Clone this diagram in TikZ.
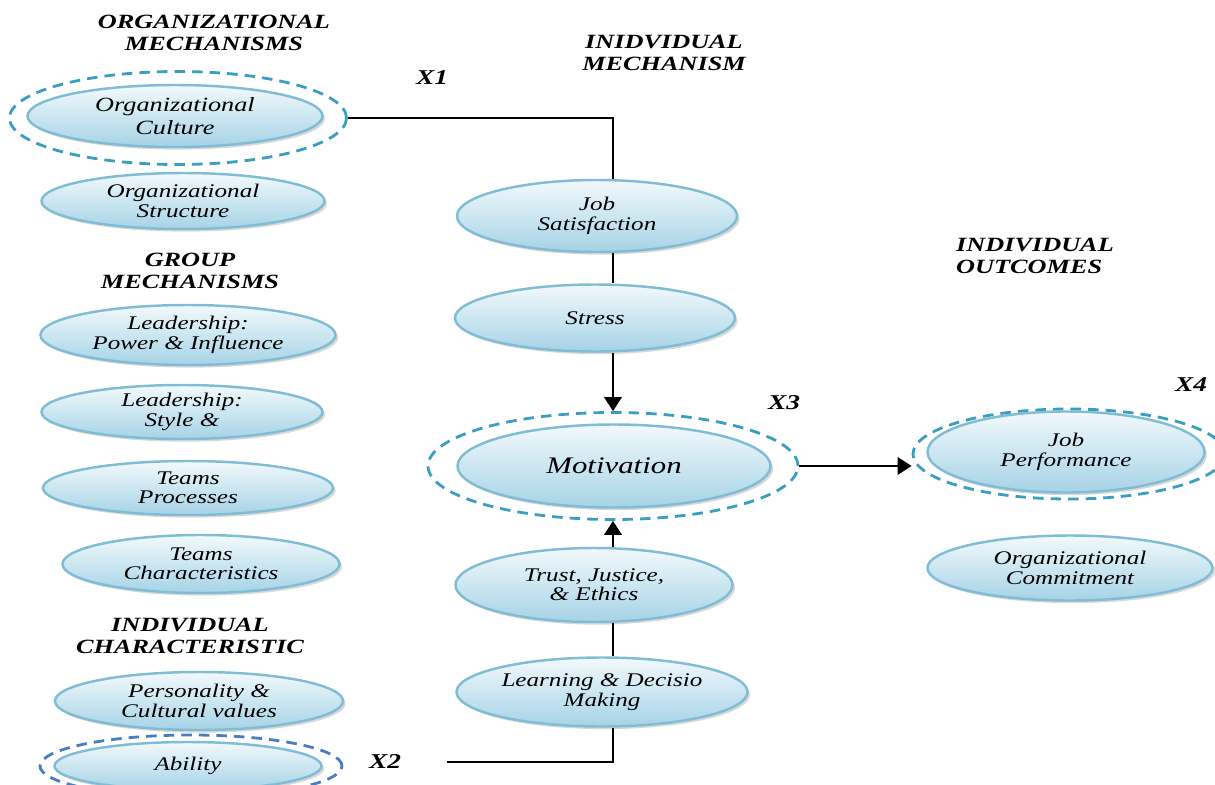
\documentclass[tikz,border=0pt]{standalone}
\usepackage{fontspec}
\setmainfont{Liberation Serif}[FakeStretch=1.3]
\usetikzlibrary{shapes.geometric,arrows.meta,shadows}

\definecolor{ovaltop}{HTML}{F2F9FC}
\definecolor{ovalbot}{HTML}{A6D3E6}
\definecolor{ovalline}{HTML}{80BDD4}
\definecolor{ringteal}{HTML}{3A9EC0}
\definecolor{ringblue}{HTML}{4A7CC0}

\tikzset{
  wh/.style 2 args={minimum width=#1*0.02cm, minimum height=#2*0.02cm},
  oval/.style={ellipse, draw=ovalline, line width=1.4pt, top color=ovaltop,
    bottom color=ovalbot, inner sep=0pt, align=center,
    font=\fontsize{11}{11}\selectfont\itshape,
    drop shadow={shadow xshift=1.5pt, shadow yshift=-1.5pt, opacity=0.3}},
  ring/.style={ellipse, draw=ringteal, dash pattern=on 6pt off 4pt,
    line width=1.6pt, inner sep=0pt},
  heading/.style={align=center, font=\fontsize{11.5}{12.5}\selectfont\bfseries\itshape},
  tag/.style={font=\fontsize{12}{14}\selectfont\bfseries\itshape},
  link/.style={line width=1.2pt},
  push/.style={link, -{Triangle[width=10pt,length=8pt]}}
}

\begin{document}
\begin{tikzpicture}[x=0.02cm, y=-0.02cm]
  \useasboundingbox (0,0) rectangle (1215,785);

  % Headings
  \node[heading] (orgmech) at (214,33) {ORGANIZATIONAL\\MECHANISMS};
  \node[heading] (indmech) at (664,53) {INIDVIDUAL\\MECHANISM};
  \node[heading] (groupmech) at (190,271) {GROUP\\MECHANISMS};
  \node[heading, align=left, anchor=west] (indout) at (950,256) {INDIVIDUAL\\OUTCOMES};
  \node[heading] (indchar) at (190,636) {INDIVIDUAL\\CHARACTERISTIC};

  % Left column
  \node[ring, wh={337}{93}] (cultring) at (178,118) {};
  \node[oval, wh={295}{62}, font=\fontsize{11.5}{13}\selectfont\itshape] (cult) at (175,116) {Organizational\\Culture};
  \node[oval, wh={283}{56}] (struct) at (183,201) {Organizational\\Structure};
  \node[oval, wh={295}{60}] (power) at (188,335) {Leadership:\\Power \& Influence};
  \node[oval, wh={281}{54}] (style) at (182,412) {Leadership:\\Style \&};
  \node[oval, wh={290}{54}] (procs) at (188,488) {Teams\\Processes};
  \node[oval, wh={277}{58}] (chars) at (201,564) {Teams\\Characteristics};
  \node[oval, wh={288}{58}] (pers) at (199,701) {Personality \&\\Cultural values};
  \node[ring, draw=ringblue, wh={302}{62}] (abilring) at (191,766) {};
  \node[oval, wh={267}{48}] (abil) at (188,766) {Ability};

  % Middle column
  \coordinate (spine) at (613,0);
  \node[oval, wh={280}{72}] (jobsat) at (597,216) {Job\\Satisfaction};
  \node[oval, wh={280}{67}] (stress) at (595,318) {Stress};
  \node[ring, wh={370}{107}] (motivring) at (613,466) {};
  \node[oval, wh={313}{83}, font=\fontsize{13.5}{15}\selectfont\itshape] (motiv) at (614,466) {Motivation};
  \node[oval, wh={277}{74}] (trust) at (594,585) {Trust, Justice,\\\& Ethics};
  \node[oval, wh={291}{69}] (learn) at (602,692) {Learning \& Decisio\\Making};

  % Right column
  \node[ring, wh={312}{90}] (perfring) at (1069,454) {};
  \node[oval, wh={277}{81}] (perf) at (1066,452) {Job\\Performance};
  \node[oval, wh={285}{65}] (orgcom) at (1070,568) {Organizational\\Commitment};

  % Labels
  \node[tag] (xone) at (432,78) {X1};
  \node[tag] (xtwo) at (385,762) {X2};
  \node[tag] (xthree) at (784,403) {X3};
  \node[tag] (xfour) at (1191,385) {X4};

  % Connectors
  \coordinate (x2end) at (447,762);
  \draw[link] (cultring.east) -| (jobsat.north -| spine);
  \draw[link] (jobsat.south -| spine) -- (stress.north -| spine);
  \draw[push] (stress.south -| spine) -- (motivring.north -| spine);
  \draw[push] (trust.north -| spine) -- (motivring.south -| spine);
  \draw[link] (learn.north -| spine) -- (trust.south -| spine);
  \draw[link] (learn.south -| spine) |- (x2end);
  \draw[push] (motivring.east) -- (motivring.east -| perfring.west);
\end{tikzpicture}
\end{document}
